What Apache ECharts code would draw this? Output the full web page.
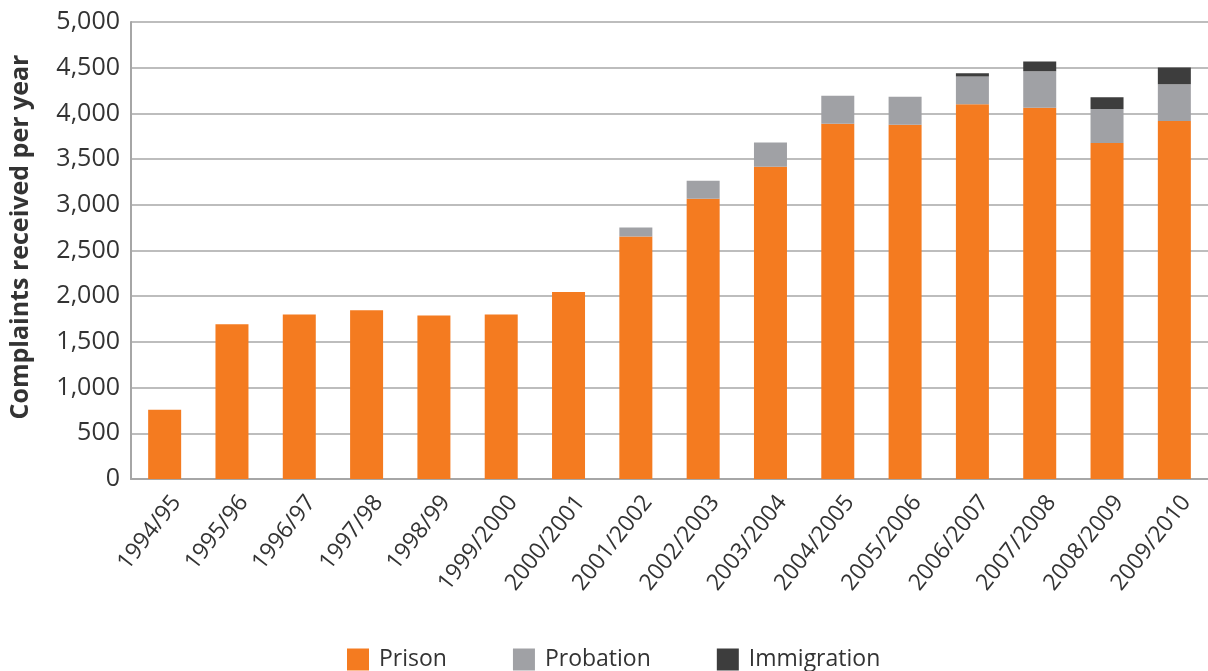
<!DOCTYPE html>
<html>
<head>
<meta charset="utf-8">
<script src="https://cdn.jsdelivr.net/npm/echarts@6/dist/echarts.min.js"></script>
<style>
  html, body { margin: 0; padding: 0; background: #ffffff; }
  #chart { width: 1208px; height: 671px; }
</style>
</head>
<body>
<div id="chart"></div>
<script>
// Financial years
const years = ['1994/95', '1995/96', '1996/97', '1997/98', '1998/99', '1999/2000', '2000/2001',
  '2001/2002', '2002/2003', '2003/2004', '2004/2005', '2005/2006', '2006/2007', '2007/2008',
  '2008/2009', '2009/2010'];

// Complaints received per year, by service
const prison      = [758, 1692, 1801, 1845, 1790, 1801, 2047, 2652, 3065, 3417, 3888, 3877, 4101, 4061, 3677, 3916];
const probation   = [0, 0, 0, 0, 0, 0, 0, 101, 199, 265, 304, 305, 304, 399, 370, 402];
const immigration = [0, 0, 0, 0, 0, 0, 0, 0, 0, 0, 0, 0, 33, 108, 130, 185];

const yTicks = { min: 0, max: 5000, interval: 500 };

const FONT = '"Open Sans", "Noto Sans", sans-serif';
const TEXT = '#333333';

const chart = echarts.init(document.getElementById('chart'), null, { renderer: 'canvas' });

function stackSeries(name, data, color) {
  return {
    name: name,
    type: 'bar',
    stack: 'total',
    data: data,
    barWidth: 33,
    itemStyle: { color: color },
    emphasis: { disabled: true }
  };
}

chart.setOption({
  animation: false,
  textStyle: { fontFamily: FONT },
  grid: { left: 131, top: 22, width: 1083, height: 457, containLabel: false },
  // vertical axis title, set a little above the axis midpoint
  graphic: [{
    type: 'text',
    x: 21,
    y: 237,
    rotation: Math.PI / 2,
    style: {
      text: 'Complaints received per year',
      fontSize: 25,
      fontWeight: 'bold',
      fontFamily: FONT,
      fill: TEXT,
      align: 'center',
      verticalAlign: 'middle'
    }
  }],
  legend: {
    left: 347,
    top: 648,
    padding: 0,
    itemWidth: 22,
    itemHeight: 22,
    itemGap: 66,
    icon: 'rect',
    textStyle: { fontSize: 23, color: TEXT, fontFamily: FONT, padding: [0, 0, 0, 5] },
    data: ['Prison', 'Probation', 'Immigration']
  },
  xAxis: {
    type: 'category',
    data: years,
    axisLine: { show: true, lineStyle: { color: '#a6a6a6', width: 2 } },
    axisTick: { show: false },
    axisLabel: {
      rotate: 52,
      interval: 0,
      margin: 10,
      verticalAlign: 'top',
      lineHeight: 30,
      fontSize: 23,
      color: TEXT,
      fontFamily: FONT
    }
  },
  yAxis: {
    type: 'value',
    min: yTicks.min,
    max: yTicks.max,
    interval: yTicks.interval,
    axisLine: { show: true, lineStyle: { color: '#a6a6a6', width: 2 } },
    axisTick: { show: false },
    splitLine: { show: true, lineStyle: { color: '#bdbdbd', width: 2 } },
    axisLabel: {
      fontSize: 25,
      color: TEXT,
      margin: 11,
      fontFamily: FONT,
      formatter: v => v.toLocaleString('en-US')
    }
  },
  series: [
    stackSeries('Prison', prison, '#f47b20'),
    stackSeries('Probation', probation, '#a0a1a5'),
    stackSeries('Immigration', immigration, '#3d3d3d')
  ]
});
</script>
</body>
</html>
